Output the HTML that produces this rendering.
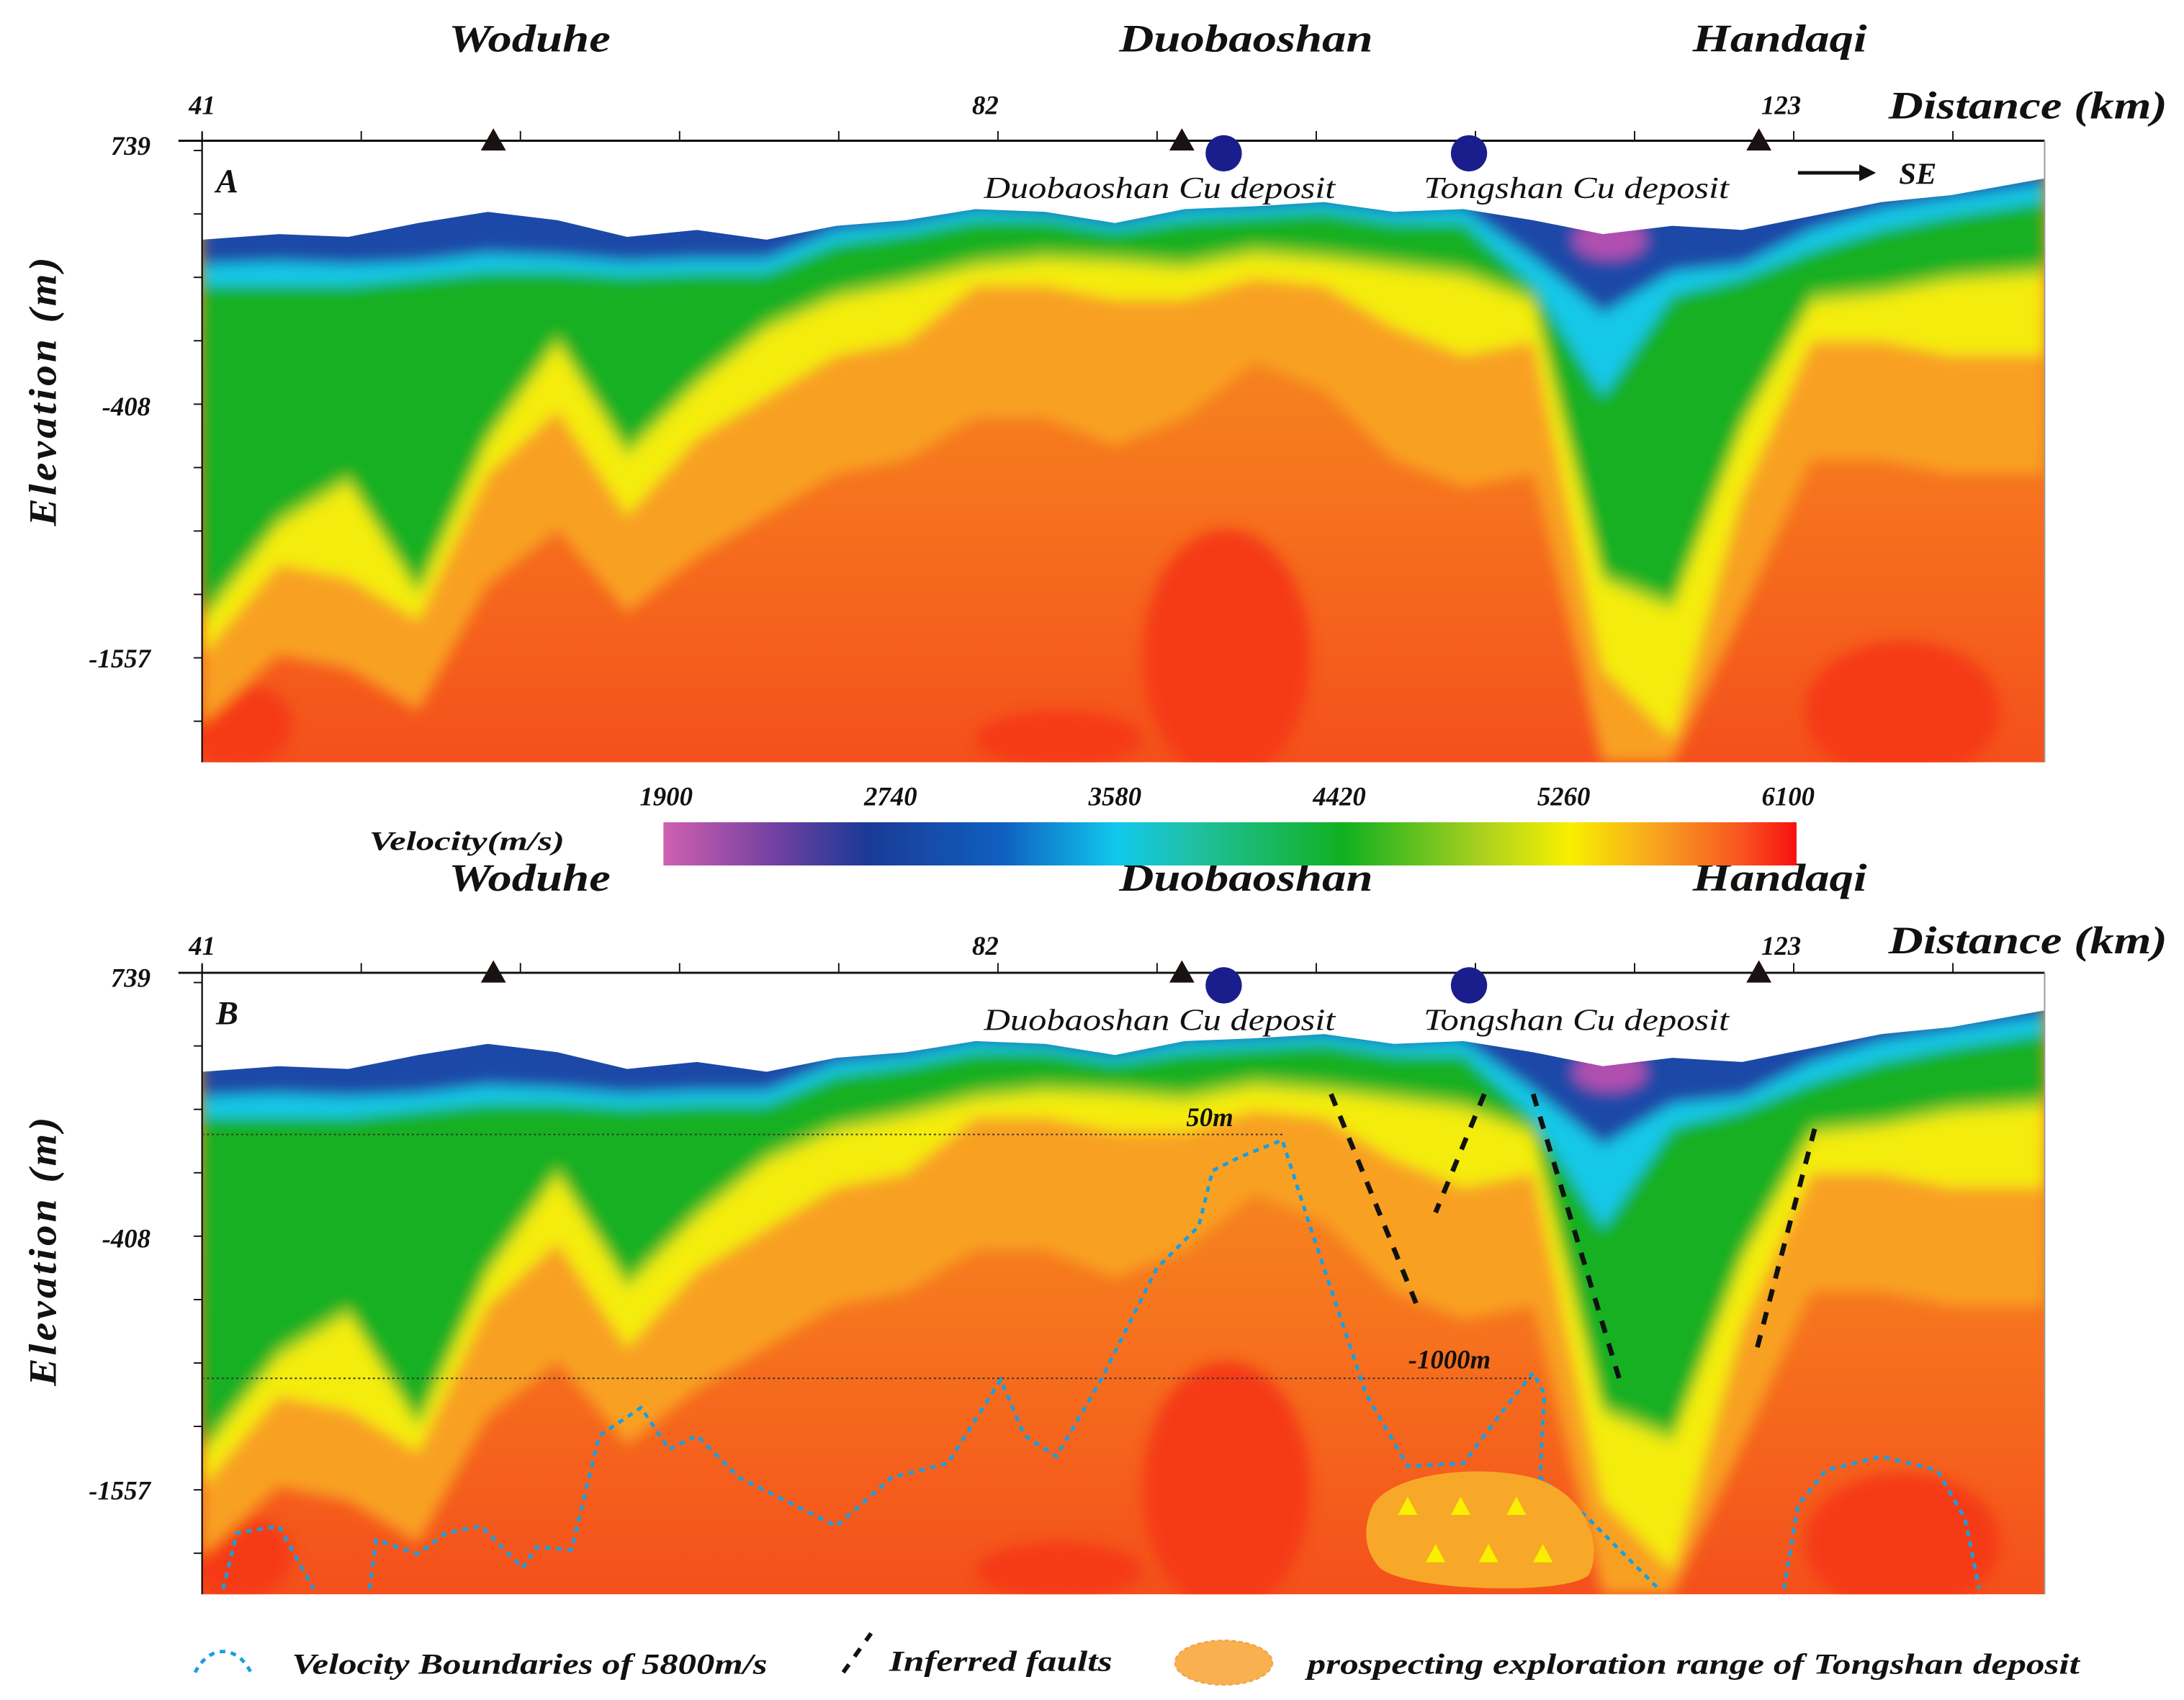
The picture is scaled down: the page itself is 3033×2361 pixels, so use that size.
<!DOCTYPE html>
<html><head><meta charset="utf-8">
<style>
html,body{margin:0;padding:0;background:#fff;}
svg{display:block;}
text{font-family:"Liberation Serif",serif;font-style:italic;font-weight:bold;fill:#111;}
text.thin{font-weight:normal;}
</style></head>
<body>
<svg id="chart" xmlns="http://www.w3.org/2000/svg" width="3033" height="2361" viewBox="0 0 1567 1219.8">
<defs>
  <filter id="blur" x="-5%" y="-5%" width="110%" height="110%"><feGaussianBlur stdDeviation="5"/></filter>
  <linearGradient id="bg" x1="0" y1="0" x2="0" y2="1">
    <stop offset="0" stop-color="#f79a20"/><stop offset="0.5" stop-color="#f6781e"/><stop offset="1" stop-color="#f4501c"/>
  </linearGradient>
  <linearGradient id="cbar" x1="0" y1="0" x2="1" y2="0">
    <stop offset="0" stop-color="#d060b0"/><stop offset="0.1" stop-color="#7040a0"/><stop offset="0.18" stop-color="#1a3a96"/>
    <stop offset="0.3" stop-color="#1060c0"/><stop offset="0.4" stop-color="#10c8ec"/><stop offset="0.47" stop-color="#20c0a0"/>
    <stop offset="0.6" stop-color="#10b020"/><stop offset="0.72" stop-color="#a8d020"/><stop offset="0.8" stop-color="#f8f000"/>
    <stop offset="0.88" stop-color="#f8a020"/><stop offset="0.95" stop-color="#f85520"/><stop offset="1" stop-color="#f81010"/>
  </linearGradient>
  <clipPath id="clipA"><rect x="145" y="100" width="1322" height="447"/></clipPath>
  <g id="field"></g>
</defs>
<g id="panels"></g>
<g id="overlay"></g>
</svg>
<script>
// ---- data arrays ----
const xSamples   = [145,200,250,300,350,400,450,500,550,600,650,700,750,800,850,900,950,1000,1050,1100,1150,1200,1250,1300,1350,1400,1467];
const surfaceY   = [172,168,170,160,152,158,170,165,172,162,158,150,152,160,150,148,145,152,150,158,168,162,165,155,145,140,128];
const blueBottom = [190,188,190,188,182,184,188,186,186,165,160,150,152,160,150,148,145,152,150,185,225,195,190,165,150,142,132];
const cyanBottom = [205,205,205,200,195,195,198,196,196,175,168,158,158,166,158,155,152,160,160,205,285,212,200,180,165,155,145];
const greenBottom= [440,370,340,420,310,240,320,270,230,208,198,185,180,182,186,176,180,186,192,210,410,430,300,210,205,195,190];
const yellowBottom=[470,405,415,445,340,295,370,315,285,255,245,205,205,215,215,200,205,235,255,245,480,530,355,245,245,255,255];
const orangeBottom=[520,470,480,510,420,380,440,400,370,340,330,300,300,320,300,260,280,330,350,340,547,547,440,330,330,340,340];
const redBlobs = [[880,470,60,90],[1365,510,70,50],[170,520,40,30],[760,530,60,20]];
const tickLabelsTop = ["41","82","123"];
const tickXTop = [145,707,1278];
const elevLabels = ["739","-408","-1557"];
const elevY = [104,291,472];
const cbarValues = ["1900","2740","3580","4420","5260","6100"];
const towns = ["Woduhe","Duobaoshan","Handaqi"];
const townX = [380,894,1277];
const townW = [116,182,125];
const stationX = [354,848,1262];
const depositX = [878,1054];

const NS="http://www.w3.org/2000/svg";
function mk(tag,attrs,parent){const e=document.createElementNS(NS,tag);for(const k in attrs)e.setAttribute(k,attrs[k]);if(parent)parent.appendChild(e);return e;}
function fillPath(bot){let d="M145,100";for(let i=0;i<xSamples.length;i++)d+=" L"+xSamples[i]+","+bot[i];return d+" L1467,100Z";}

const field=document.getElementById('field');
mk('rect',{x:145,y:100,width:1322,height:447,fill:'url(#bg)'},field);
const soft=mk('g',{filter:'url(#blur)'},field);
redBlobs.forEach(b=>{mk('ellipse',{cx:b[0],cy:b[1],rx:b[2],ry:b[3],fill:'#f53a18'},soft);});
mk('path',{d:fillPath(orangeBottom),fill:'#f8a020'},soft);
mk('path',{d:fillPath(yellowBottom),fill:'#f4ec10'},soft);
mk('path',{d:fillPath(greenBottom.map(v=>v+8)),fill:'#9cd020'},soft);
mk('path',{d:fillPath(greenBottom),fill:'#14b020'},soft);
mk('path',{d:fillPath(cyanBottom),fill:'#18c8e8'},soft);
mk('path',{d:fillPath(blueBottom),fill:'#1a4aa8'},soft);
mk('ellipse',{cx:1155,cy:172,rx:26,ry:14,fill:'#b050b0'},soft);
let wd="M140,95 L1470,95 L1470,"+surfaceY[surfaceY.length-1];
for(let i=xSamples.length-1;i>=0;i--)wd+=" L"+xSamples[i]+","+surfaceY[i];
wd+=" L140,"+surfaceY[0]+"Z";
mk('path',{d:wd,fill:'#fff'},field);

const panels=document.getElementById('panels');
const ov=document.getElementById('overlay');
function txt(s,x,y,size,anchor,parent,name,extra,len){const a=Object.assign({x:x,y:y,'font-size':size,'text-anchor':anchor||'start'},extra||{});if(len){a.textLength=len;a.lengthAdjust='spacingAndGlyphs';}const t=mk('text',a,parent);t.textContent=s;return t;}

[0,597].forEach((off,pi)=>{
  const g=mk('g',{transform:'translate(0,'+off+')'},panels);
  
  
  const u=mk('use',{href:'#field','clip-path':'url(#clipA)'},g);
  
  
  mk('line',{x1:128,y1:101,x2:1467,y2:101,stroke:'#111','stroke-width':1.5},g);
  mk('line',{x1:145,y1:95,x2:145,y2:547,stroke:'#111','stroke-width':1.2},g);
  mk('line',{x1:1467,y1:101,x2:1467,y2:547,stroke:'#999','stroke-width':1},g);
  for(let k=0;k<12;k++){const x=145+k*114.2;mk('line',{x1:x,y1:94,x2:x,y2:101,stroke:'#111','stroke-width':1},g);}
  for(let k=0;k<10;k++){const y=108+k*45.5;mk('line',{x1:139,y1:y,x2:145,y2:y,stroke:'#111','stroke-width':1},g);}
  towns.forEach((t,i)=>txt(t,townX[i],pi?42:37,28,'middle',g,'town-label',null,townW[i]));
  tickLabelsTop.forEach((t,i)=>txt(t,tickXTop[i],pi?88:82,19,'middle',g,'distance-tick-label'));
  txt("Distance (km)",1455,pi?87:85,28,'middle',g,'x-axis-title',null,200);
  elevLabels.forEach((t,i)=>txt(t,108,elevY[i]+7,19,'end',g,'elevation-tick-label'));
  txt("Elevation (m)",40,(pi?300:280),28,'middle',g,'y-axis-title',{transform:'rotate(-90 40 '+(pi?300:280)+')','letter-spacing':'2'},195);
  stationX.forEach(x=>{const p=mk('polygon',{points:(x-9)+',108 '+(x+9)+',108 '+x+',92',fill:'#1a1210'},g);});
  depositX.forEach(x=>{const c=mk('circle',{cx:x,cy:110,r:13,fill:'#1a1e8c'},g);});
  txt("Duobaoshan Cu deposit",832,142,22,'middle',g,'deposit-label',{'class':'thin'},252);
  txt("Tongshan Cu deposit",1131,142,22,'middle',g,'deposit-label',{'class':'thin'},219);
  txt(pi?"B":"A",163,138,24,'middle',g,'panel-letter');
  if(!pi){mk('line',{x1:1290,y1:124,x2:1340,y2:124,stroke:'#111','stroke-width':2.5},g);
    mk('polygon',{points:'1346,124 1334,118 1334,130',fill:'#111'},g);
    txt("SE",1376,132,22,'middle',g,'direction-label');}
});

const cb=mk('g',{},ov);
mk('rect',{x:476,y:590,width:813,height:31,fill:'url(#cbar)'},cb);
cbarValues.forEach((v,i)=>txt(v,478+i*(1283-478)/5,578,19,'middle',cb,'colorbar-tick-label'));
txt("Velocity(m/s)",335,610,19,'middle',cb,'colorbar-title',null,140);

mk('line',{x1:145,y1:814,x2:920,y2:814,stroke:'#333','stroke-width':1,'stroke-dasharray':'1.5,2'},ov);
mk('line',{x1:145,y1:989,x2:1100,y2:989,stroke:'#333','stroke-width':1,'stroke-dasharray':'1.5,2'},ov);
txt("50m",868,808,19,'middle',ov,'depth-label-50m');
txt("-1000m",1040,982,19,'middle',ov,'depth-label-1000m');
const vb="M160,1140 L170,1100 L200,1095 L225,1140 M265,1140 L270,1105 L300,1115 L320,1100 L345,1095 L375,1125 L385,1110 L410,1112 L430,1030 L460,1010 L480,1040 L500,1030 L530,1060 L570,1080 L600,1095 L640,1060 L680,1050 L718,990 L735,1030 L758,1045 L790,990 L830,910 L860,880 L870,840 L890,830 L920,818 L940,880 L960,940 L980,1000 L1010,1052 L1050,1050 L1080,1010 L1100,985 L1108,1000 L1105,1060 L1140,1090 L1190,1140 M1280,1140 L1290,1080 L1310,1055 L1350,1045 L1390,1055 L1410,1090 L1420,1140";
const vbe=mk('path',{d:vb,fill:'none',stroke:'#1a9ee0','stroke-width':2.5,'stroke-dasharray':'4,4'},ov);

[[955,785,1018,940],[1065,785,1030,870],[1100,785,1162,990],[1302,810,1260,970]].forEach(f=>{
  const l=mk('line',{x1:f[0],y1:f[1],x2:f[2],y2:f[3],stroke:'#111','stroke-width':3.5,'stroke-dasharray':'9,8'},ov);
  });
const blob=mk('path',{d:"M985,1080 C1000,1055 1070,1050 1105,1062 C1140,1075 1150,1110 1140,1130 C1125,1145 1010,1142 990,1125 C978,1112 978,1095 985,1080Z",fill:'#f8a828'},ov);

[[1010,1081],[1048,1081],[1088,1081],[1030,1115],[1068,1115],[1107,1115]].forEach(p=>mk('polygon',{points:(p[0]-7)+','+(p[1]+6)+' '+(p[0]+7)+','+(p[1]+6)+' '+p[0]+','+(p[1]-7),fill:'#f8f000'},ov));

const lg=mk('g',{},ov);
mk('path',{d:"M140,1200 C150,1180 170,1180 180,1200",fill:'none',stroke:'#1a9ee0','stroke-width':2.5,'stroke-dasharray':'4,4'},lg);
txt("Velocity Boundaries of 5800m/s",380,1201,21,'middle',lg,'legend-label-boundary',null,341);
mk('line',{x1:605,y1:1200,x2:625,y2:1172,stroke:'#111','stroke-width':3,'stroke-dasharray':'7,7'},lg);
txt("Inferred faults",718,1199,21,'middle',lg,'legend-label-faults',null,160);
mk('ellipse',{cx:878,cy:1193,rx:35,ry:16,fill:'#f8b050',stroke:'#f0a040','stroke-dasharray':'3,2'},lg);
txt("prospecting exploration range of Tongshan deposit",1215,1201,21,'middle',lg,'legend-label-range',null,554);
</script>
</body></html>
